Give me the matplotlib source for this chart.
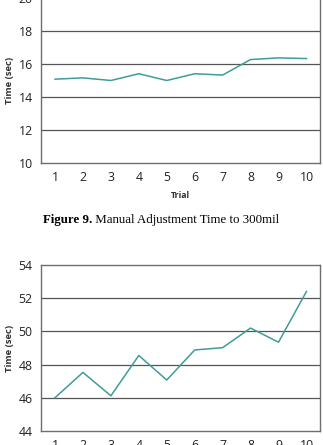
"""
Manual adjustment time per trial - two stacked line charts (page crop)
"""
import matplotlib
matplotlib.use('Agg')
import matplotlib.pyplot as plt

# Data
trials = [1, 2, 3, 4, 5, 6, 7, 8, 9, 10]
time_300mil = [15.08, 15.16, 15.0, 15.41, 15.0, 15.41, 15.33, 16.27, 16.37, 16.33]
time_second = [46.0, 47.53, 46.12, 48.55, 47.07, 48.88, 49.02, 50.2, 49.35, 52.4]

top_yticks = [10, 12, 14, 16, 18, 20]
bottom_yticks = [44, 46, 48, 50, 52, 54]

caption_bold = 'Figure 9.'
caption_rest = ' Manual Adjustment Time to 300mil'

line_color = '#3f9c98'
grid_color = '#555555'
spine_color = '#6e6e6e'
tick_font = 'Open Sans'


def style_axes(ax, yticks):
    ax.set_xlim(0.5, 10.5)
    ax.set_ylim(yticks[0], yticks[-1])
    ax.set_xticks(trials)
    ax.set_yticks(yticks)
    for y in yticks[1:-1]:
        ax.axhline(y, color=grid_color, linewidth=0.9, zorder=1)
    for s in ax.spines.values():
        s.set_color(spine_color)
        s.set_linewidth(1.0)
    ax.tick_params(length=0, pad=6, labelsize=8.8, labelcolor='#222222')
    for lab in ax.get_xticklabels() + ax.get_yticklabels():
        lab.set_fontfamily(tick_font)
    ax.set_ylabel('Time (sec)', fontsize=6.8, fontfamily=tick_font,
                  fontweight='bold', color='#333333', labelpad=3)


fig = plt.figure(figsize=(3.23, 4.45), dpi=100)

# Upper chart (its top edge runs just off the crop)
ax1 = fig.add_axes([0.127, 0.6337, 0.865, 0.3708])
ax1.plot(trials, time_300mil, color=line_color, linewidth=1.1, zorder=3)
style_axes(ax1, top_yticks)
ax1.set_xlabel('Trial', fontsize=6.3, fontfamily=tick_font, fontweight='bold',
               color='#333333', labelpad=5)

# Lower chart (its x labels run off the bottom of the crop)
ax2 = fig.add_axes([0.127, 0.0315, 0.865, 0.373])
ax2.plot(trials, time_second, color=line_color, linewidth=1.1, zorder=3)
style_axes(ax2, bottom_yticks)

# Caption under the upper chart
t1 = fig.text(0.133, 0.505, caption_bold, fontsize=9.3, fontweight='bold',
              fontfamily='Liberation Serif', ha='left', va='center')
fig.canvas.draw()
bb = t1.get_window_extent()
x_end = fig.transFigure.inverted().transform((bb.x1, bb.y0))[0]
fig.text(x_end, 0.505, caption_rest, fontsize=9.3,
         fontfamily='Liberation Serif', ha='left', va='center')

fig.savefig('out.png', dpi=100)
plt.close(fig)
